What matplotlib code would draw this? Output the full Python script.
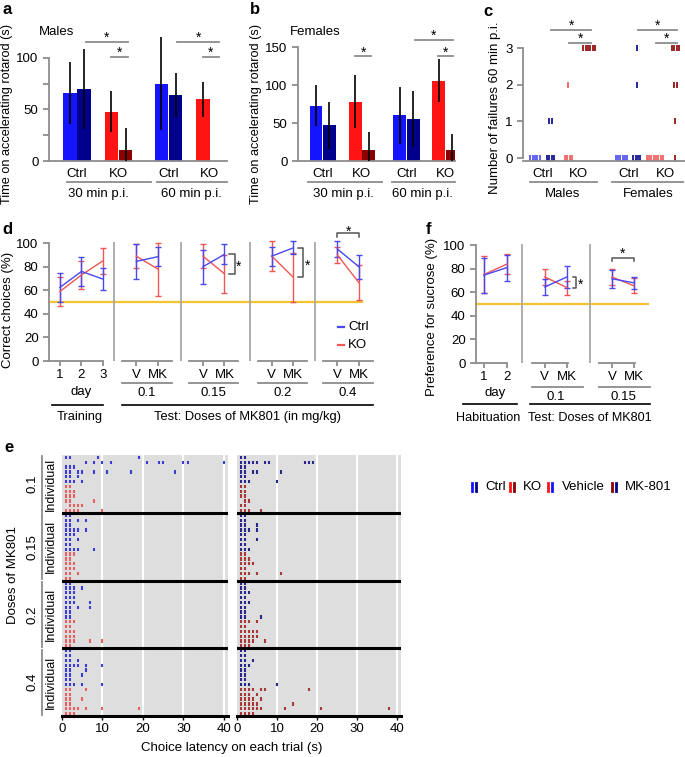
import matplotlib
matplotlib.use('Agg')
import matplotlib.pyplot as plt
import matplotlib.transforms as mtransforms
from matplotlib.lines import Line2D

plt.rcParams['font.family'] = ['Liberation Sans', 'DejaVu Sans']
plt.rcParams['font.size'] = 9

# ---------------- data ----------------
# a, b: per time group -> Ctrl vehicle, Ctrl MK801, KO vehicle, KO MK801
time_groups = ['30 min p.i.', '60 min p.i.']
males_mean = [66, 70, 48, 11, 75, 64, 60, 0]
males_err = [30, 39, 20, 21, 45, 21, 17, 0]
females_mean = [73, 47, 78, 14, 60, 55, 106, 14]
females_err = [27, 31, 35, 24, 37, 37, 28, 21]

# c: failures at 60 min p.i., one value per animal
fail_males = [[0, 0, 0, 0, 0], [0, 0, 0, 0, 1, 1], [0, 0, 0, 0, 2], [3, 3, 3, 3, 3, 3]]
fail_females = [[0, 0, 0, 0, 0, 0], [0, 0, 0, 0, 2, 3], [0, 0, 0, 0, 0, 0, 0, 0],
                [0, 1, 2, 2, 3, 3, 3, 3]]

# d: T-maze correct choices (%)
train_days = ['1', '2', '3']
train_ctrl = [62.5, 76, 69.5]
train_ctrl_err = [12.5, 12.5, 9]
train_ko = [59, 73, 85]
train_ko_err = [12, 12, 11]
d_doses = ['0.1', '0.15', '0.2', '0.4']
d_ctrl = [[84.5, 88.5], [80, 90.5], [89, 96], [95, 80]]
d_ctrl_err = [[14.5, 8], [14.5, 8.5], [8, 5.5], [6.5, 10]]
d_ko = [[89, 78], [89, 74], [89, 71], [90, 66.5]]
d_ko_err = [[10.5, 22.5], [10, 16], [13, 21], [7, 15]]

# f: sucrose preference (%)
hab_days = ['1', '2']
hab_ctrl = [74.5, 81]
hab_ctrl_err = [15, 11]
hab_ko = [75, 84]
hab_ko_err = [15.5, 8.5]
f_doses = ['0.1', '0.15']
f_ctrl = [[64.5, 73], [71.5, 68]]
f_ctrl_err = [[6.5, 9.5], [7.5, 5]]
f_ko = [[73, 64], [73, 65.5]]
f_ko_err = [[7, 6], [7, 6.5]]

# e: choice latency (s) of each trial, one list per animal, per dose
e_doses = ['0.1', '0.15', '0.2', '0.4']
veh_ctrl = [
    [[1, 2, 9, 19], [6, 8, 10, 12, 21, 24, 25, 30, 31, 40], [1, 2, 3],
     [1, 2, 4, 5, 8, 11, 17, 28], [1, 2, 4], [1, 2, 3, 5]],
    [[1, 2], [1, 2, 4, 6], [1, 2], [1, 2, 3, 4, 6], [1, 2, 3], [1, 2, 4], [1, 2], [1, 2, 3, 4, 8]],
    [[1, 2], [1, 2, 3, 5], [1, 2, 3], [1, 2, 3], [1, 2, 3, 7], [1, 2, 4, 7], [1, 2], [1, 2]],
    [[1, 2], [1, 2], [1, 2, 4], [1, 2, 3, 4, 6, 10], [1, 2, 6], [1, 2, 5], [1, 2], [1, 2, 3, 5, 10]],
]
veh_ko = [
    [[1, 2], [1, 2, 3], [1, 2, 3], [1, 2, 8], [2, 3, 4, 5], [1, 2, 3, 4, 10]],
    [[1, 2, 3], [1, 2], [1, 2, 3], [1, 2, 3], [1, 2, 4], [1, 2]],
    [[1, 2, 3], [1, 2], [1, 2, 3], [1, 2, 3], [1, 2, 3, 7, 10], [1, 2]],
    [[1, 2, 6], [1, 2], [1, 2, 5], [1, 2], [1, 2, 3, 4, 6, 10, 19], [1, 2, 3]],
]
mk_ctrl = [
    [[1, 2], [1, 2, 3, 4, 5, 7, 8, 17, 18, 19], [1, 2], [1, 2, 4, 5, 11], [1, 2], [1, 2, 3, 10]],
    [[1, 2], [1, 2], [1, 2, 5], [1, 2, 3, 5], [1, 2], [1, 2, 5], [1, 2], [1, 2, 3]],
    [[1, 2], [1, 2], [1, 2, 3], [1, 2], [1, 2, 3], [1, 2], [1, 2], [1, 2, 6]],
    [[1, 2], [1, 2], [1, 2, 4], [1, 2, 3], [1, 2], [1, 2], [1, 2], [1, 2, 3, 10]],
]
mk_ko = [
    [[1, 2], [1, 2], [1, 2], [2, 3], [1, 2], [1, 2, 3, 6]],
    [[1, 2], [1, 2, 3], [1, 2, 3, 4], [1, 2], [1, 2, 3, 5, 11], [1, 2]],
    [[1, 2, 3, 5], [1, 2], [1, 2, 3, 4, 5], [1, 2, 3, 4, 5], [1, 2, 3, 4, 7], [1, 2, 3]],
    [[1, 2, 3, 4, 6, 7, 18], [1, 2, 3, 5], [1, 2, 3, 4, 6], [1, 2, 3, 4, 5, 14],
     [1, 2, 3, 4, 5, 6, 12, 21, 38], [1, 2, 3, 4]],
]

# ---------------- figure helpers ----------------
W, H = 685, 757
fig = plt.figure(figsize=(W / 100, H / 100), dpi=100)
pix = mtransforms.Affine2D().scale(1.0 / W, -1.0 / H).translate(0, 1) + fig.transFigure

BLUE, NAVY, RED, DRED = '#1414ff', '#00008c', '#ff1414', '#8c0000'
GRAY = '#8c8c8c'
LBLUE, LRED = '#4848ee', '#f05656'


def rect(l, t, r, b):
    return [l / W, 1 - b / H, (r - l) / W, (b - t) / H]


def style(ax):
    ax.spines['top'].set_visible(False)
    ax.spines['right'].set_visible(False)
    for s in ('left', 'bottom'):
        ax.spines[s].set_color(GRAY)
        ax.spines[s].set_linewidth(1.3)
    ax.tick_params(which='both', color=GRAY, width=1.3, length=4, labelsize=9.5,
                   labelcolor='black')
    ax.patch.set_alpha(0)


def ftext(x, y, s, **kw):
    kw.setdefault('ha', 'center')
    kw.setdefault('va', 'center')
    fig.text(x, y, s, transform=pix, **kw)


def fline(xs, ys, **kw):
    fig.add_artist(Line2D(xs, ys, transform=pix, **kw))


def dx_py(ax):
    # x in data units, y in figure pixels
    return mtransforms.blended_transform_factory(ax.transData, pix)


def star(ax, x, y, dy=0):
    ax.annotate('*', (x, y), xytext=(0, dy), textcoords='offset points', ha='center',
                va='baseline', fontsize=10, annotation_clip=False)


def sig(ax, x0, x1, y, dy=0):
    ax.plot([x0, x1], [y, y], color=GRAY, lw=1.3, clip_on=False)
    star(ax, (x0 + x1) / 2, y, dy)


# ---------------- a, b ----------------
offs = [0, 1, 2.9, 3.9]
bar_cols = [BLUE, NAVY, RED, DRED]


def rotarod(box, means, errs, starts, xlim, ytop, spine_top, yticks, minor, title, tpos,
            sigs, unders, glab_x):
    ax = fig.add_axes(rect(*box))
    style(ax)
    xs = [g + o for g in starts for o in offs]
    ax.bar(xs, means, width=0.95, color=bar_cols * len(starts), zorder=2)
    ax.errorbar(xs, means, yerr=errs, fmt='none', ecolor='black', elinewidth=1.2,
                capsize=0, zorder=3)
    ax.set_xlim(*xlim)
    ax.set_ylim(0, ytop)
    ax.spines['left'].set_bounds(0, spine_top)
    ax.set_yticks(yticks)
    ax.set_yticks(minor, minor=True)
    ax.set_xticks([g + t for g in starts for t in (0.5, 3.4)], ['Ctrl', 'KO'] * len(starts))
    ax.tick_params(axis='x', length=0, pad=5)
    for x0, x1, y in sigs:
        sig(ax, x0, x1, y)
    tr = dx_py(ax)
    for (x0, x1), gx, lab in zip(unders, glab_x, time_groups):
        ax.plot([x0, x1], [182, 182], color=GRAY, lw=1.3, transform=tr, clip_on=False)
        ax.text(gx, 194, lab, transform=tr, ha='center', va='center', fontsize=9.5)
    ftext(tpos[0], tpos[1], title, ha='left', fontsize=9.5)
    return ax


rotarod((49, 29, 227, 161), males_mean, males_err, [0, 6.4], (-1.47, 11.0), 128, 100,
        [0, 50, 100], [25, 75], 'Males', (39, 32),
        [(1.1, 4.05, 115.6), (2.9, 4.05, 101), (7.5, 10.45, 115.6), (9.3, 10.45, 101)],
        [(-0.21, 5.66), (6.08, 11.0)], [1.96, 8.5])
rotarod((298, 32, 455, 161), females_mean, females_err, [0, 6.2], (-1.33, 10.3), 170, 150,
        [0, 50, 100, 150], [], 'Females', (290, 32),
        [(2.9, 4.1, 138), (7.33, 10.15, 160), (9.04, 10.15, 138)],
        [(-0.6, 4.9), (5.6, 10.3)], [2.0, 7.9])

# ---------------- c ----------------
axc = fig.add_axes(rect(523, 26, 685, 161))
style(axc)
c_offs = [0, 0.85, 1.85, 3.0]
c_starts = [0, 4.8]
c_cols = [LBLUE, NAVY, LRED, DRED]
for g, sex in zip(c_starts, (fail_males, fail_females)):
    for o, vals, col in zip(c_offs, sex, c_cols):
        for v in sorted(set(vals)):
            n = vals.count(v)
            xs = [g + o + (i - (n - 1) / 2) * 0.13 for i in range(n)]
            axc.plot(xs, [v] * n, ls='none', marker='|', ms=4, mew=1.2, color=col)
axc.set_xlim(-0.67, 8.33)
axc.set_ylim(-0.08, 3.6)
axc.spines['left'].set_bounds(0, 3)
axc.set_yticks([0, 1, 2, 3])
axc.set_xticks([g + t for g in c_starts for t in (0.42, 2.43)], ['Ctrl', 'KO'] * 2)
axc.tick_params(axis='x', length=0, pad=5)
for g in c_starts:
    sig(axc, g + 0.9, g + 3.1, 3.5)
    sig(axc, g + 1.9, g + 3.1, 3.15)
trc = dx_py(axc)
for (x0, x1), gx, lab in zip([(-0.28, 3.44), (4.28, 8.2)], [1.55, 6.3], ['Males', 'Females']):
    axc.plot([x0, x1], [182, 182], color=GRAY, lw=1.3, transform=trc, clip_on=False)
    axc.text(gx, 194, lab, transform=trc, ha='center', va='center', fontsize=9.5)


# ---------------- d, f ----------------
def choice(box, xlim, days_x, day_lab, pc, pce, pk, pke, v_x, doses, c, ce, k, ke, y_end):
    ax = fig.add_axes(rect(*box))
    style(ax)
    ax.set_xlim(*xlim)
    ax.set_ylim(0, 112)
    ax.spines['left'].set_bounds(0, 100)
    ax.spines['bottom'].set_visible(False)
    ax.set_yticks(range(0, 101, 20))
    ekw = dict(lw=1, elinewidth=1, capsize=2.5, capthick=1)
    ax.errorbar(days_x, pk, yerr=pke, color=LRED, **ekw)
    ax.errorbar(days_x, pc, yerr=pce, color=LBLUE, **ekw)
    ticks = list(days_x)
    labels = list(day_lab)
    for i, v in enumerate(v_x):
        ax.errorbar([v, v + 1], k[i], yerr=ke[i], color=LRED, **ekw)
        ax.errorbar([v, v + 1], c[i], yerr=ce[i], color=LBLUE, **ekw)
        ax.vlines(v - 1.02, 0, 101, color='#a8a8a8', lw=1.3)
        ticks += [v, v + 1]
        labels += ['V', 'MK']
    ax.plot([xlim[0], y_end], [50, 50], color='#f4c430', lw=1.6, zorder=1)
    ax.set_xticks(ticks, labels)
    ax.tick_params(axis='x', length=3.5, pad=2.5)
    return ax


d_days_x = [0, 1, 2]
d_v_x = [3.55, 6.65, 9.85, 12.9]
axd = choice((49, 229, 375, 361), (-0.51, 14.65), d_days_x, train_days, train_ctrl,
             train_ctrl_err, train_ko, train_ko_err, d_v_x, d_doses, d_ctrl, d_ctrl_err,
             d_ko, d_ko_err, 14.05)
xt = axd.get_xaxis_transform()
trd = dx_py(axd)
axd.plot([-0.51, 2], [0, 0], color=GRAY, lw=1.3, transform=xt, clip_on=False)
for v, lab in zip(d_v_x, d_doses):
    axd.plot([v - 0.65, v + 1.65], [0, 0], color=GRAY, lw=1.3, transform=xt, clip_on=False)
    axd.plot([v - 0.65, v + 1.65], [383, 383], color=GRAY, lw=1.3, transform=trd, clip_on=False)
    axd.text(v + 0.5, 393, lab, transform=trd, ha='center', va='center', fontsize=9.5)
axd.text(1, 392, 'day', transform=trd, ha='center', va='center', fontsize=9.5)
axd.plot([-0.37, 2.0], [405, 405], color='black', lw=1.2, transform=trd, clip_on=False)
axd.plot([d_v_x[0] - 0.65, 14.56], [405, 405], color='black', lw=1.2, transform=trd, clip_on=False)
axd.text(0.9, 417, 'Training', transform=trd, ha='center', va='center', fontsize=9.3)
axd.text(8.74, 417, 'Test: Doses of MK801 (in mg/kg)', transform=trd, ha='center',
         va='center', fontsize=9.3)
for i in (1, 2):
    mk = d_v_x[i] + 1
    lo, hi = sorted([d_ko[i][1], d_ctrl[i][1]])
    axd.plot([mk + 0.23, mk + 0.47, mk + 0.47, mk + 0.23], [hi, hi, lo, lo], color='#555555', lw=1.1)
    star(axd, mk + 0.65, (lo + hi) / 2, -5)
v4 = d_v_x[3]
axd.plot([v4, v4, v4 + 1, v4 + 1], [105.5, 108.5, 108.5, 105.5], color='#555555', lw=1.1,
         clip_on=False)
star(axd, v4 + 0.5, 108.5, -2)
fline([338, 344], [327, 327], color=LBLUE, lw=1.6)
fline([338, 344], [345, 345], color=LRED, lw=1.6)
ftext(348, 327, 'Ctrl', ha='left', fontsize=9.5)
ftext(348, 345, 'KO', ha='left', fontsize=9.5)

f_days_x = [0, 1.05]
f_v_x = [2.77, 5.82]
axf = choice((476, 231, 650, 363), (-0.36, 7.55), f_days_x, hab_days, hab_ctrl, hab_ctrl_err,
             hab_ko, hab_ko_err, f_v_x, f_doses, f_ctrl, f_ctrl_err, f_ko, f_ko_err, 7.45)
xt = axf.get_xaxis_transform()
trf = dx_py(axf)
axf.plot([-0.36, 1.05], [0, 0], color=GRAY, lw=1.3, transform=xt, clip_on=False)
for v, lab in zip(f_v_x, f_doses):
    axf.plot([v - 0.6, v + 1.05], [0, 0], color=GRAY, lw=1.3, transform=xt, clip_on=False)
    axf.plot([v - 0.6, v + 1.73], [387, 387], color=GRAY, lw=1.3, transform=trf, clip_on=False)
    axf.text(v + 0.5, 397, lab, transform=trf, ha='center', va='center', fontsize=9.5)
axf.text(0.5, 393, 'day', transform=trf, ha='center', va='center', fontsize=9.5)
axf.plot([-0.95, 1.5], [404, 404], color='black', lw=1.2, transform=trf, clip_on=False)
axf.plot([2.09, 7.55], [404, 404], color='black', lw=1.2, transform=trf, clip_on=False)
axf.text(0.2, 418, 'Habituation', transform=trf, ha='center', va='center', fontsize=9.1)
axf.text(4.82, 418, 'Test: Doses of MK801', transform=trf, ha='center', va='center',
         fontsize=9.1)
mk = f_v_x[0] + 1
lo, hi = sorted([f_ko[0][1], f_ctrl[0][1]])
axf.plot([mk + 0.27, mk + 0.41, mk + 0.41, mk + 0.27], [hi, hi, lo, lo], color='#555555', lw=1.1)
star(axf, mk + 0.62, (lo + hi) / 2, -5)
v2 = f_v_x[1]
axf.plot([v2, v2, v2 + 1, v2 + 1], [86.5, 89, 89, 86.5], color='#555555', lw=1.1)
star(axf, v2 + 0.5, 89)


# ---------------- e ----------------
def raster(box, ctrl, ko, c_col, k_col):
    ax = fig.add_axes(rect(*box))
    ax.set_facecolor('#dedede')
    for s in ('top', 'right', 'left'):
        ax.spines[s].set_visible(False)
    ax.spines['bottom'].set_color('black')
    ax.spines['bottom'].set_linewidth(2.2)
    for x in (10, 20, 30, 40):
        ax.axvline(x, color='white', lw=1.5, zorder=1)
    r = 0
    bounds = []
    for b in range(len(e_doses)):
        for rows, col in ((ctrl[b], c_col), (ko[b], k_col)):
            for lat in rows:
                ax.vlines(lat, r + 0.14, r + 0.86, color=col, lw=1.5, zorder=2)
                r += 1
        bounds.append(r)
    for b in bounds[:-1]:
        ax.axhline(b, color='black', lw=2.2, zorder=3)
    ax.set_xlim(0, 41)
    ax.set_ylim(bounds[-1], 0)
    ax.set_yticks([])
    ax.set_xticks([0, 10, 20, 30, 40])
    ax.tick_params(axis='x', length=3, width=1, labelsize=9.5, pad=2)
    return ax, bounds


axe, bounds = raster((62, 455, 228, 716), veh_ctrl, veh_ko, '#3c3cdc', '#e86060')
raster((237, 455, 401, 716), mk_ctrl, mk_ko, '#28288c', '#a83838')
bt = mtransforms.blended_transform_factory(pix, axe.transData)
top = 0
for b, lab in zip(bounds, e_doses):
    axe.text(33, (top + b) / 2, lab, transform=bt, rotation=90, ha='center', va='center',
             fontsize=9.5)
    axe.text(51, (top + b) / 2, 'Individual', transform=bt, rotation=90, ha='center',
             va='center', fontsize=9)
    axe.plot([42, 42], [top + 0.3, b - 0.3], color=GRAY, lw=1.3, transform=bt, clip_on=False)
    top = b
ftext(13, 575, 'Doses of MK801', rotation=90, fontsize=9.5)
ftext(232, 748, 'Choice latency on each trial (s)', fontsize=9.5)

# e legend
leg = [('Ctrl', BLUE, NAVY, 472, 485), ('KO', RED, DRED, 510, 523),
       ('Vehicle', RED, BLUE, 548, 562), ('MK-801', DRED, NAVY, 612, 625)]
for lab, c1, c2, x, tx in leg:
    fline([x, x], [483, 491], color=c1, lw=2)
    fline([x + 4, x + 4], [483, 491], color=c2, lw=2)
    ftext(tx, 487, lab, ha='left', fontsize=9.5)

# ---------------- labels ----------------
ftext(7, 114, 'Time on accelerating rotarod (s)', rotation=90, fontsize=9.2)
ftext(256, 114, 'Time on accelerating rotarod (s)', rotation=90, fontsize=9.2)
ftext(495, 108, 'Number of failures 60 min p.i.', rotation=90, fontsize=9.5)
ftext(8, 310, 'Correct choices (%)', rotation=90, fontsize=9.5)
ftext(432, 317, 'Preference for sucrose (%)', rotation=90, fontsize=9.5)
for s, x, y in [('a', 7, 9), ('b', 255, 9), ('c', 488, 12), ('d', 7, 229), ('f', 429, 229),
                ('e', 9, 448)]:
    ftext(x, y, s, fontsize=12, fontweight='bold')

fig.savefig('out.png', dpi=100)
